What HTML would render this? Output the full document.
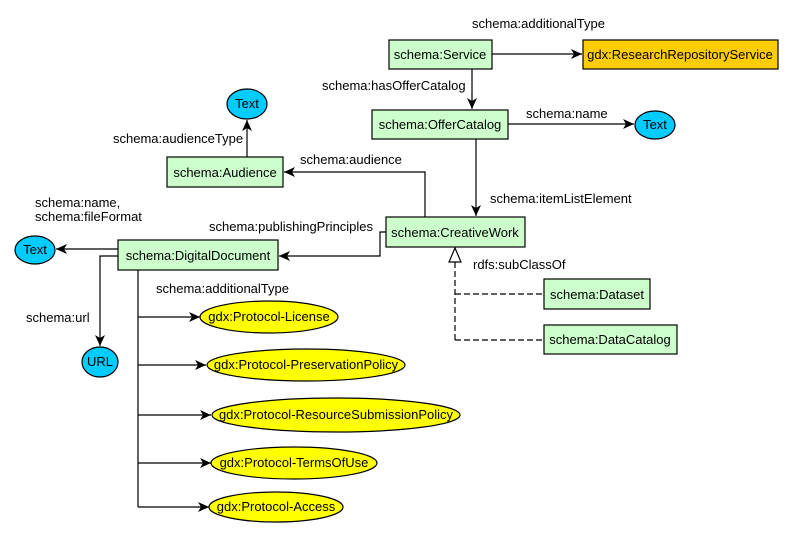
<!DOCTYPE html>
<html><head><meta charset="utf-8"><style>
body{margin:0;background:#fff}
svg text{font-family:"Liberation Sans",sans-serif;font-size:13px;fill:#000}
</style></head><body>
<svg width="794" height="538" viewBox="0 0 794 538" xmlns="http://www.w3.org/2000/svg">
<defs>
<marker id="a" markerWidth="12" markerHeight="10" refX="11" refY="5" orient="auto" markerUnits="userSpaceOnUse">
<path d="M0,0 L11,5 L0,10 L3,5 Z" fill="#000"/></marker>
</defs>
<g stroke="#000" stroke-width="1.2" fill="none">
<line x1="492" y1="54" x2="582" y2="54" marker-end="url(#a)"/>
<line x1="472" y1="69" x2="472" y2="109" marker-end="url(#a)"/>
<line x1="508" y1="124" x2="634" y2="124" marker-end="url(#a)"/>
<line x1="476" y1="139" x2="476" y2="216" marker-end="url(#a)"/>
<polyline points="425,217 425,172 284,172" marker-end="url(#a)"/>
<line x1="247" y1="157" x2="247" y2="120" marker-end="url(#a)"/>
<polyline points="386,232 380,232 380,256 279,256" marker-end="url(#a)"/>
<line x1="118" y1="249" x2="56" y2="249" marker-end="url(#a)"/>
<polyline points="118,256 100,256 100,346" marker-end="url(#a)"/>
<polyline points="138,270 138,507"/>
<line x1="138" y1="317" x2="200" y2="317" marker-end="url(#a)"/>
<line x1="138" y1="365" x2="206" y2="365" marker-end="url(#a)"/>
<line x1="138" y1="415" x2="211" y2="415" marker-end="url(#a)"/>
<line x1="138" y1="463" x2="211" y2="463" marker-end="url(#a)"/>
<line x1="138" y1="507" x2="209" y2="507" marker-end="url(#a)"/>
<path d="M455,262 L455,340 M455,294 L544,294 M455,340 L544,340" stroke-dasharray="6,3"/>
<path d="M455,248 L449,262 L461,262 Z" fill="#fff"/>
</g>
<g stroke="#000" stroke-width="1.2">
<rect x="389" y="40" width="103" height="29" fill="#ccffcc"/>
<rect x="583" y="40" width="195" height="29" fill="#ffcc00"/>
<rect x="372" y="110" width="136" height="29" fill="#ccffcc"/>
<rect x="386" y="217" width="139" height="30" fill="#ccffcc"/>
<rect x="167" y="157" width="116" height="30" fill="#ccffcc"/>
<rect x="118" y="240" width="160" height="30" fill="#ccffcc"/>
<rect x="544" y="279" width="106" height="30" fill="#ccffcc"/>
<rect x="544" y="325" width="133" height="29" fill="#ccffcc"/>
<ellipse cx="655" cy="125" rx="20" ry="14" fill="#00ccff"/>
<ellipse cx="247" cy="104" rx="20" ry="15" fill="#00ccff"/>
<ellipse cx="35" cy="250" rx="20" ry="14" fill="#00ccff"/>
<ellipse cx="100" cy="362" rx="18" ry="15" fill="#00ccff"/>
<ellipse cx="269" cy="317" rx="69" ry="16" fill="#ffff00"/>
<ellipse cx="306" cy="365" rx="99" ry="16" fill="#ffff00"/>
<ellipse cx="336" cy="415" rx="124" ry="17" fill="#ffff00"/>
<ellipse cx="294" cy="463" rx="83" ry="16" fill="#ffff00"/>
<ellipse cx="276" cy="507" rx="67" ry="15" fill="#ffff00"/>
</g>
<g text-anchor="middle">
<text x="440" y="59">schema:Service</text>
<text x="680" y="59">gdx:ResearchRepositoryService</text>
<text x="440" y="129">schema:OfferCatalog</text>
<text x="455" y="237">schema:CreativeWork</text>
<text x="225" y="177">schema:Audience</text>
<text x="198" y="260">schema:DigitalDocument</text>
<text x="597" y="299">schema:Dataset</text>
<text x="610" y="344">schema:DataCatalog</text>
<text x="655" y="129">Text</text>
<text x="247" y="108">Text</text>
<text x="35" y="254">Text</text>
<text x="100" y="366">URL</text>
<text x="269" y="321">gdx:Protocol-License</text>
<text x="306" y="369">gdx:Protocol-PreservationPolicy</text>
<text x="336" y="419">gdx:Protocol-ResourceSubmissionPolicy</text>
<text x="294" y="467">gdx:Protocol-TermsOfUse</text>
<text x="276" y="511">gdx:Protocol-Access</text>
</g>
<text x="472" y="28">schema:additionalType</text>
<text x="322" y="90">schema:hasOfferCatalog</text>
<text x="526" y="118">schema:name</text>
<text x="490" y="203">schema:itemListElement</text>
<text x="300" y="164">schema:audience</text>
<text x="113" y="143">schema:audienceType</text>
<text x="209" y="231">schema:publishingPrinciples</text>
<text x="35" y="207">schema:name,</text>
<text x="35" y="221">schema:fileFormat</text>
<text x="26" y="322">schema:url</text>
<text x="156" y="293">schema:additionalType</text>
<text x="473" y="269">rdfs:subClassOf</text>
</svg>
</body></html>
